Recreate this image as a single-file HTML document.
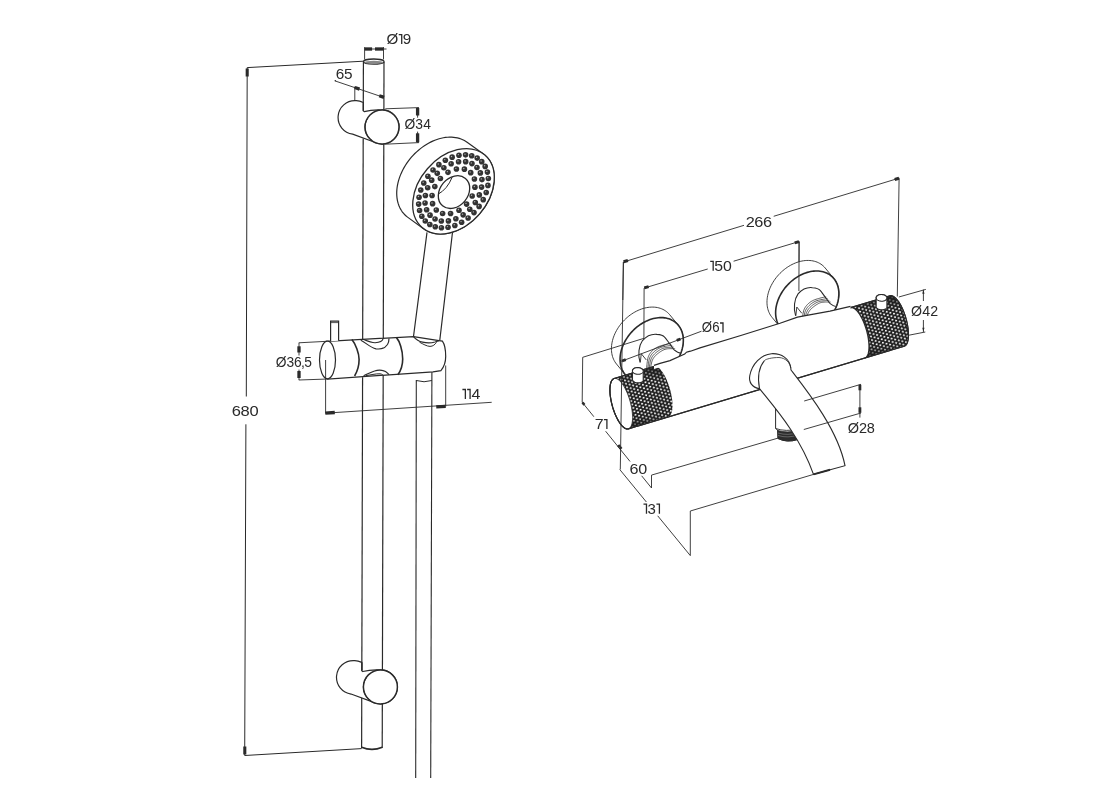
<!DOCTYPE html>
<html><head><meta charset="utf-8"><style>
html,body{margin:0;padding:0;background:#fff;}
svg{display:block;will-change:transform;}
text{font-family:"Liberation Sans",sans-serif;fill:#2a2a2a;}
</style></head><body>
<svg width="1103" height="800" viewBox="0 0 1103 800">
<line x1="247.2" y1="67.6" x2="363.5" y2="61.2" stroke="#2a2a2a" stroke-width="1"/><line x1="247.2" y1="67.6" x2="246.3" y2="396.5" stroke="#2a2a2a" stroke-width="1"/><line x1="245.9" y1="424.3" x2="244.7" y2="755.5" stroke="#2a2a2a" stroke-width="1"/><line x1="244.7" y1="755.5" x2="361.7" y2="748.6" stroke="#2a2a2a" stroke-width="1"/><polygon points="245.66,68.5 248.74,68.5 248.74,76.5 245.66,76.5" fill="#2a2a2a"/><polygon points="246.34,754.5 243.26,754.5 243.26,746.5 246.34,746.5" fill="#2a2a2a"/><text transform="translate(231.67 416.06) scale(1.155 1)" font-size="14.30">6</text><text transform="translate(240.5 416.06) scale(1.155 1)" font-size="14.30">8</text><text transform="translate(249.49 416.06) scale(1.155 1)" font-size="14.30">0</text><ellipse cx="373.8" cy="61.6" rx="10.3" ry="2.6" fill="#fff" stroke="#2a2a2a" stroke-width="1.3"/><ellipse cx="373.8" cy="62.4" rx="9.5" ry="1.6" fill="#888" stroke="none"/><line x1="364.6" y1="47.1" x2="364.6" y2="59.5" stroke="#2a2a2a" stroke-width="0.9"/><line x1="383.5" y1="47.1" x2="383.5" y2="59.5" stroke="#2a2a2a" stroke-width="0.9"/><line x1="364.6" y1="49" x2="386.5" y2="49" stroke="#2a2a2a" stroke-width="0.9"/><polygon points="364.6,50.66 364.6,47.34 372.1,47.34 372.1,50.66" fill="#2a2a2a"/><polygon points="383.5,47.34 383.5,50.66 375,50.66 375,47.34" fill="#2a2a2a"/><text transform="translate(386.39 44.06) scale(1.059 1)" font-size="14.30">Ø</text><path d="M398.74,34.6 L401.72,34.6 L401.72,44.06" fill="none" stroke="#2a2a2a" stroke-width="1.3" stroke-linejoin="miter"/><text transform="translate(402.78 44.06) scale(1.059 1)" font-size="14.30">9</text><line x1="363.4" y1="62" x2="363.28" y2="110.2" stroke="#2a2a2a" stroke-width="1.2"/><line x1="384" y1="62" x2="383.88" y2="110" stroke="#2a2a2a" stroke-width="1.2"/><line x1="363.2" y1="138.6" x2="362.68" y2="339.6" stroke="#2a2a2a" stroke-width="1.2"/><line x1="383.79" y1="144" x2="383.28" y2="339" stroke="#2a2a2a" stroke-width="1.2"/><line x1="362.58" y1="377.3" x2="361.82" y2="670" stroke="#2a2a2a" stroke-width="1.2"/><line x1="383.19" y1="372.5" x2="382.42" y2="670" stroke="#2a2a2a" stroke-width="1.2"/><line x1="361.75" y1="697" x2="361.62" y2="748" stroke="#2a2a2a" stroke-width="1.2"/><line x1="382.33" y1="703" x2="382.22" y2="748" stroke="#2a2a2a" stroke-width="1.2"/><path d="M361.6,747.2 Q372,751.5 382.3,747.2" fill="none" stroke="#2a2a2a" stroke-width="1.6" /><line x1="335.3" y1="81" x2="384" y2="97.5" stroke="#2a2a2a" stroke-width="0.9"/><circle cx="335.3" cy="80.7" r="0.8" fill="#2a2a2a"/><line x1="354.8" y1="86.5" x2="354.8" y2="100.7" stroke="#2a2a2a" stroke-width="0.9"/><polygon points="354.28,89.08 355.32,85.92 360.07,87.49 359.03,90.65" fill="#2a2a2a"/><polygon points="384.52,95.72 383.48,98.88 378.73,97.31 379.77,94.15" fill="#2a2a2a"/><text transform="translate(335.73 79.46) scale(1.074 1)" font-size="14.30">6</text><text transform="translate(344.09 79.46) scale(1.074 1)" font-size="14.30">5</text><path d="M363.28,102.5 Q359,100.4 355.5,100.7 A16.8,16.8 0 0 0 352.66,134.14 L374.02,142.01 A17,17 0 1 0 381,110 Q372,109.6 364.23,111.6 L363.23,110.8 Z" fill="#fff" stroke="#2a2a2a" stroke-width="1.2" /><circle cx="382" cy="127" r="17" fill="#fff" stroke="#2a2a2a" stroke-width="1.5"/><path d="M368,118 A15.8,15.8 0 0 0 372,140.5" fill="none" stroke="#2a2a2a" stroke-width="0.9"/><line x1="363.3" y1="102.5" x2="363.28" y2="110.8" stroke="#2a2a2a" stroke-width="1.2"/><path d="M361.82,662.4 Q357.4,660.3 353.9,660.6 A16.8,16.8 0 0 0 351.06,694.04 L372.42,701.91 A17,17 0 1 0 379.4,669.9 Q370.4,669.5 362.78,671.5 L361.78,670.7 Z" fill="#fff" stroke="#2a2a2a" stroke-width="1.2" /><circle cx="380.4" cy="686.9" r="17" fill="#fff" stroke="#2a2a2a" stroke-width="1.5"/><path d="M366.4,677.9 A15.8,15.8 0 0 0 370.4,700.4" fill="none" stroke="#2a2a2a" stroke-width="0.9"/><line x1="361.84" y1="662.4" x2="361.82" y2="670.7" stroke="#2a2a2a" stroke-width="1.2"/><line x1="385.3" y1="108.8" x2="419" y2="107.6" stroke="#2a2a2a" stroke-width="0.9"/><line x1="385.3" y1="144.2" x2="419" y2="142.6" stroke="#2a2a2a" stroke-width="0.9"/><line x1="417.6" y1="107.6" x2="417.6" y2="142.6" stroke="#2a2a2a" stroke-width="0.9"/><polygon points="415.94,108 419.26,108 419.26,115.5 415.94,115.5" fill="#2a2a2a"/><polygon points="419.26,142.3 415.94,142.3 415.94,133.3 419.26,133.3" fill="#2a2a2a"/><rect x="403" y="117.7" width="29.4" height="13.9" fill="#fff"/><text transform="translate(404.45 129.46) scale(0.968 1)" font-size="14.30">Ø</text><text transform="translate(415.28 129.46) scale(0.968 1)" font-size="14.30">3</text><text transform="translate(423.13 129.46) scale(0.968 1)" font-size="14.30">4</text><line x1="416.3" y1="380" x2="415.7" y2="778" stroke="#2a2a2a" stroke-width="1.1"/><line x1="431.9" y1="372" x2="430.7" y2="778" stroke="#2a2a2a" stroke-width="1.1"/><path d="M416.3,380.5 Q424,383 431.9,380.5" fill="none" stroke="#2a2a2a" stroke-width="1" /><path d="M427,232.3 L413.5,336.5 M452.5,232.3 L439.7,341" fill="none" stroke="#2a2a2a" stroke-width="1.2" /><polygon points="396.72,193.72 396.74,191.59 396.88,189.43 397.14,187.24 397.5,185.03 397.97,182.81 398.55,180.57 399.24,178.34 400.03,176.11 400.92,173.89 401.92,171.69 403.01,169.51 404.19,167.35 405.47,165.23 406.84,163.15 408.29,161.12 409.82,159.14 411.42,157.21 413.1,155.35 414.84,153.55 416.65,151.83 418.51,150.18 420.43,148.61 422.39,147.13 424.39,145.74 426.43,144.44 428.5,143.24 430.6,142.14 432.71,141.14 434.84,140.24 436.97,139.46 439.11,138.79 441.24,138.23 443.36,137.78 445.46,137.45 447.54,137.23 449.6,137.13 451.62,137.15 453.61,137.29 455.54,137.54 457.43,137.9 459.27,138.39 461.04,138.98 462.76,139.69 464.4,140.51 465.96,141.43 467.45,142.46 483.45,153.96 484.86,155.09 486.18,156.33 487.42,157.65 488.56,159.07 489.6,160.58 490.54,162.17 491.39,163.85 492.12,165.59 492.76,167.41 493.28,169.3 493.7,171.24 494,173.24 494.2,175.29 494.28,177.38 494.26,179.51 494.12,181.67 493.86,183.86 493.5,186.07 493.03,188.29 492.45,190.53 491.76,192.76 490.97,194.99 490.08,197.21 489.08,199.41 487.99,201.59 486.81,203.75 485.53,205.87 484.16,207.95 482.71,209.98 481.18,211.96 479.58,213.89 477.9,215.75 476.16,217.55 474.35,219.27 472.49,220.92 470.57,222.49 468.61,223.97 466.61,225.36 464.57,226.66 462.5,227.86 460.4,228.96 458.29,229.96 456.16,230.86 454.03,231.64 451.89,232.31 449.76,232.87 447.64,233.32 445.54,233.65 443.46,233.87 441.4,233.97 439.38,233.95 437.39,233.81 435.46,233.56 433.57,233.2 431.73,232.71 429.96,232.12 428.24,231.41 426.6,230.59 425.04,229.67 423.55,228.64 407.55,217.14 406.14,216.01 404.82,214.77 403.58,213.45 402.44,212.03 401.4,210.52 400.46,208.93 399.61,207.25 398.88,205.51 398.24,203.69 397.72,201.8 397.3,199.86 397,197.86 396.8,195.81" fill="#fff" stroke="#2a2a2a" stroke-width="1.2"/><ellipse cx="453.5" cy="191.3" rx="47.9" ry="34.5" transform="rotate(-49.1 453.5 191.3)" fill="#fff" stroke="#2a2a2a" stroke-width="1.3"/><g fill="#333"><circle cx="470.71" cy="172.65" r="2.8"/><circle cx="474.41" cy="178.97" r="2.8"/><circle cx="474.92" cy="187.16" r="2.8"/><circle cx="472.17" cy="195.99" r="2.8"/><circle cx="466.58" cy="204.1" r="2.8"/><circle cx="459" cy="210.26" r="2.8"/><circle cx="450.58" cy="213.54" r="2.8"/><circle cx="442.61" cy="213.43" r="2.8"/><circle cx="436.29" cy="209.95" r="2.8"/><circle cx="432.59" cy="203.63" r="2.8"/><circle cx="432.08" cy="195.44" r="2.8"/><circle cx="434.83" cy="186.61" r="2.8"/><circle cx="440.42" cy="178.5" r="2.8"/><circle cx="448" cy="172.34" r="2.8"/><circle cx="456.42" cy="169.06" r="2.8"/><circle cx="464.39" cy="169.17" r="2.8"/><circle cx="476.96" cy="167.43" r="2.8"/><circle cx="480.37" cy="172.89" r="2.8"/><circle cx="481.95" cy="179.61" r="2.8"/><circle cx="481.59" cy="187.12" r="2.8"/><circle cx="479.32" cy="194.92" r="2.8"/><circle cx="475.29" cy="202.47" r="2.8"/><circle cx="469.77" cy="209.26" r="2.8"/><circle cx="463.14" cy="214.83" r="2.8"/><circle cx="455.86" cy="218.79" r="2.8"/><circle cx="448.42" cy="220.88" r="2.8"/><circle cx="441.32" cy="220.95" r="2.8"/><circle cx="435.05" cy="219" r="2.8"/><circle cx="430.04" cy="215.17" r="2.8"/><circle cx="426.63" cy="209.71" r="2.8"/><circle cx="425.05" cy="202.99" r="2.8"/><circle cx="425.41" cy="195.48" r="2.8"/><circle cx="427.68" cy="187.68" r="2.8"/><circle cx="431.71" cy="180.13" r="2.8"/><circle cx="437.23" cy="173.34" r="2.8"/><circle cx="443.86" cy="167.77" r="2.8"/><circle cx="451.14" cy="163.81" r="2.8"/><circle cx="458.58" cy="161.72" r="2.8"/><circle cx="465.68" cy="161.65" r="2.8"/><circle cx="471.95" cy="163.6" r="2.8"/><circle cx="481.72" cy="161.67" r="2.8"/><circle cx="485.17" cy="166.4" r="2.8"/><circle cx="487.41" cy="172.08" r="2.8"/><circle cx="488.35" cy="178.5" r="2.8"/><circle cx="487.94" cy="185.41" r="2.8"/><circle cx="486.22" cy="192.55" r="2.8"/><circle cx="483.23" cy="199.64" r="2.8"/><circle cx="479.11" cy="206.41" r="2.8"/><circle cx="473.99" cy="212.6" r="2.8"/><circle cx="468.1" cy="217.97" r="2.8"/><circle cx="461.64" cy="222.31" r="2.8"/><circle cx="454.86" cy="225.47" r="2.8"/><circle cx="448.04" cy="227.31" r="2.8"/><circle cx="441.43" cy="227.76" r="2.8"/><circle cx="435.28" cy="226.82" r="2.8"/><circle cx="429.83" cy="224.51" r="2.8"/><circle cx="425.28" cy="220.93" r="2.8"/><circle cx="421.83" cy="216.2" r="2.8"/><circle cx="419.59" cy="210.52" r="2.8"/><circle cx="418.65" cy="204.1" r="2.8"/><circle cx="419.06" cy="197.19" r="2.8"/><circle cx="420.78" cy="190.05" r="2.8"/><circle cx="423.77" cy="182.96" r="2.8"/><circle cx="427.89" cy="176.19" r="2.8"/><circle cx="433.01" cy="170" r="2.8"/><circle cx="438.9" cy="164.63" r="2.8"/><circle cx="445.36" cy="160.29" r="2.8"/><circle cx="452.14" cy="157.13" r="2.8"/><circle cx="458.96" cy="155.29" r="2.8"/><circle cx="465.57" cy="154.84" r="2.8"/><circle cx="471.72" cy="155.78" r="2.8"/><circle cx="477.17" cy="158.09" r="2.8"/></g><g fill="#b0b0b0"><circle cx="470.11" cy="171.95" r="0.7"/><circle cx="473.81" cy="178.27" r="0.7"/><circle cx="474.32" cy="186.46" r="0.7"/><circle cx="471.57" cy="195.29" r="0.7"/><circle cx="465.98" cy="203.4" r="0.7"/><circle cx="458.4" cy="209.56" r="0.7"/><circle cx="449.98" cy="212.84" r="0.7"/><circle cx="442.01" cy="212.73" r="0.7"/><circle cx="435.69" cy="209.25" r="0.7"/><circle cx="431.99" cy="202.93" r="0.7"/><circle cx="431.48" cy="194.74" r="0.7"/><circle cx="434.23" cy="185.91" r="0.7"/><circle cx="439.82" cy="177.8" r="0.7"/><circle cx="447.4" cy="171.64" r="0.7"/><circle cx="455.82" cy="168.36" r="0.7"/><circle cx="463.79" cy="168.47" r="0.7"/><circle cx="476.36" cy="166.73" r="0.7"/><circle cx="479.77" cy="172.19" r="0.7"/><circle cx="481.35" cy="178.91" r="0.7"/><circle cx="480.99" cy="186.42" r="0.7"/><circle cx="478.72" cy="194.22" r="0.7"/><circle cx="474.69" cy="201.77" r="0.7"/><circle cx="469.17" cy="208.56" r="0.7"/><circle cx="462.54" cy="214.13" r="0.7"/><circle cx="455.26" cy="218.09" r="0.7"/><circle cx="447.82" cy="220.18" r="0.7"/><circle cx="440.72" cy="220.25" r="0.7"/><circle cx="434.45" cy="218.3" r="0.7"/><circle cx="429.44" cy="214.47" r="0.7"/><circle cx="426.03" cy="209.01" r="0.7"/><circle cx="424.45" cy="202.29" r="0.7"/><circle cx="424.81" cy="194.78" r="0.7"/><circle cx="427.08" cy="186.98" r="0.7"/><circle cx="431.11" cy="179.43" r="0.7"/><circle cx="436.63" cy="172.64" r="0.7"/><circle cx="443.26" cy="167.07" r="0.7"/><circle cx="450.54" cy="163.11" r="0.7"/><circle cx="457.98" cy="161.02" r="0.7"/><circle cx="465.08" cy="160.95" r="0.7"/><circle cx="471.35" cy="162.9" r="0.7"/><circle cx="481.12" cy="160.97" r="0.7"/><circle cx="484.57" cy="165.7" r="0.7"/><circle cx="486.81" cy="171.38" r="0.7"/><circle cx="487.75" cy="177.8" r="0.7"/><circle cx="487.34" cy="184.71" r="0.7"/><circle cx="485.62" cy="191.85" r="0.7"/><circle cx="482.63" cy="198.94" r="0.7"/><circle cx="478.51" cy="205.71" r="0.7"/><circle cx="473.39" cy="211.9" r="0.7"/><circle cx="467.5" cy="217.27" r="0.7"/><circle cx="461.04" cy="221.61" r="0.7"/><circle cx="454.26" cy="224.77" r="0.7"/><circle cx="447.44" cy="226.61" r="0.7"/><circle cx="440.83" cy="227.06" r="0.7"/><circle cx="434.68" cy="226.12" r="0.7"/><circle cx="429.23" cy="223.81" r="0.7"/><circle cx="424.68" cy="220.23" r="0.7"/><circle cx="421.23" cy="215.5" r="0.7"/><circle cx="418.99" cy="209.82" r="0.7"/><circle cx="418.05" cy="203.4" r="0.7"/><circle cx="418.46" cy="196.49" r="0.7"/><circle cx="420.18" cy="189.35" r="0.7"/><circle cx="423.17" cy="182.26" r="0.7"/><circle cx="427.29" cy="175.49" r="0.7"/><circle cx="432.41" cy="169.3" r="0.7"/><circle cx="438.3" cy="163.93" r="0.7"/><circle cx="444.76" cy="159.59" r="0.7"/><circle cx="451.54" cy="156.43" r="0.7"/><circle cx="458.36" cy="154.59" r="0.7"/><circle cx="464.97" cy="154.14" r="0.7"/><circle cx="471.12" cy="155.08" r="0.7"/><circle cx="476.57" cy="157.39" r="0.7"/></g><ellipse cx="454" cy="192.1" rx="17.85" ry="14" transform="rotate(-50.1 454 192.1)" fill="#fff" stroke="#2a2a2a" stroke-width="1.3"/><path d="M452.2,177.2 Q447,189.5 438.3,194" fill="none" stroke="#2a2a2a" stroke-width="1" /><path d="M327,341.3 L413.5,336.6 L439,340.7 L442.4,341.1 C444.5,344 445.7,350 445.7,356.5 C445.7,362 444,367 440.9,370.7 L433,371.9 L328,379 Z" fill="#fff" stroke="#2a2a2a" stroke-width="1.2" /><ellipse cx="327.5" cy="360" rx="8" ry="18.8" fill="#fff" stroke="#2a2a2a" stroke-width="1.2"/><path d="M330.6,341.3 L330.6,321.2 L338.6,321.2 L338.6,340.8" fill="#fff" stroke="#2a2a2a" stroke-width="1.2" /><path d="M330.6,322.6 L338.6,322.6" fill="none" stroke="#2a2a2a" stroke-width="0.8" /><path d="M351.9,339.6 C355.5,344 359.1,353 359.1,359.6 C359.1,366 357,372 354.6,376" fill="none" stroke="#2a2a2a" stroke-width="1.6" /><path d="M396.5,337.6 C399.5,341 402.7,350 402.7,358.9 C402.7,365 400.5,371 397.9,374.7" fill="none" stroke="#2a2a2a" stroke-width="1.6" /><path d="M362.9,339.2 C366,340.5 371,342.8 375.2,342.7 C379,342.6 382.5,341.5 383.2,338.4" fill="none" stroke="#2a2a2a" stroke-width="1.1" /><path d="M360.8,340.3 C365,342 370,347.5 376,348.8 C381,349.5 385.5,347.5 387.5,344.5 C389,342 389,340 389,338.6" fill="none" stroke="#2a2a2a" stroke-width="1.2" /><path d="M363.6,375.7 C367,374.5 371,372 374.5,371 C378,369.8 382,369.8 385.5,371.5 C387,372.5 388.5,374 389,374.7" fill="none" stroke="#2a2a2a" stroke-width="1.2" /><path d="M365.6,375.7 C370,375 376,373.6 380,373.8 C382,374 383,375 383.5,375.4" fill="none" stroke="#2a2a2a" stroke-width="1.0" /><path d="M413.5,336.6 C416,339.5 419,341.5 422.5,342.2 C426,343 431,343.2 435,342 L439,340.7" fill="none" stroke="#2a2a2a" stroke-width="1.2" /><path d="M419.5,342.2 C423,344 427,346.4 430,346.4 C433,346.4 435,344.5 436.5,342.3" fill="none" stroke="#2a2a2a" stroke-width="1.0" /><line x1="298.8" y1="342.8" x2="327" y2="341.3" stroke="#2a2a2a" stroke-width="0.9"/><line x1="298.8" y1="380" x2="328" y2="379" stroke="#2a2a2a" stroke-width="0.9"/><line x1="299" y1="342.8" x2="299" y2="380" stroke="#2a2a2a" stroke-width="0.9"/><polygon points="297.34,346.3 300.66,346.3 300.66,352.5 297.34,352.5" fill="#2a2a2a"/><polygon points="300.66,378 297.34,378 297.34,371 300.66,371" fill="#2a2a2a"/><rect x="274.3" y="355.5" width="39" height="14.1" fill="#fff"/><text transform="translate(275.75 367.46) scale(0.965 1)" font-size="14.30">Ø</text><text transform="translate(286.55 367.46) scale(0.965 1)" font-size="14.30">3</text><text transform="translate(294.04 367.46) scale(0.965 1)" font-size="14.30">6</text><text transform="translate(300.98 367.46) scale(0.965 1)" font-size="14.30">,</text><text transform="translate(304.19 367.46) scale(0.965 1)" font-size="14.30">5</text><line x1="325.6" y1="360" x2="325.6" y2="413.2" stroke="#2a2a2a" stroke-width="0.9"/><line x1="325.3" y1="413.2" x2="491.7" y2="402.3" stroke="#2a2a2a" stroke-width="0.9"/><line x1="445.7" y1="365.5" x2="445.7" y2="406.6" stroke="#2a2a2a" stroke-width="0.9"/><polygon points="325.41,414.76 325.19,411.44 334.67,410.82 334.89,414.14" fill="#2a2a2a"/><polygon points="445.59,404.64 445.81,407.96 436.33,408.58 436.11,405.26" fill="#2a2a2a"/><path d="M462.4,389.5 L465.37,389.5 L465.37,398.96" fill="none" stroke="#2a2a2a" stroke-width="1.3" stroke-linejoin="miter"/><path d="M467.12,389.5 L470.09,389.5 L470.09,398.96" fill="none" stroke="#2a2a2a" stroke-width="1.3" stroke-linejoin="miter"/><text transform="translate(471.44 398.96) scale(1.114 1)" font-size="14.30">4</text><line x1="623.4" y1="262" x2="899.2" y2="178.1" stroke="#2a2a2a" stroke-width="0.9"/><line x1="899.1" y1="178.1" x2="897.3" y2="296.5" stroke="#2a2a2a" stroke-width="0.9"/><polygon points="624.05,263.27 623.15,260.33 627.46,259.02 628.35,261.96" fill="#2a2a2a"/><polygon points="898.55,176.73 899.45,179.67 895.14,180.98 894.25,178.04" fill="#2a2a2a"/><line x1="644.1" y1="288.1" x2="799.2" y2="241.5" stroke="#2a2a2a" stroke-width="0.9"/><line x1="799.1" y1="241.5" x2="798.9" y2="291" stroke="#2a2a2a" stroke-width="0.9"/><polygon points="644.74,289.37 643.86,286.43 648.17,285.14 649.05,288.08" fill="#2a2a2a"/><polygon points="798.56,240.13 799.44,243.07 795.13,244.36 794.25,241.42" fill="#2a2a2a"/><path d="M611.43,348.8 L611.47,347.18 L611.6,345.53 L611.82,343.87 L612.12,342.19 L612.51,340.51 L612.98,338.82 L613.53,337.13 L614.16,335.45 L614.87,333.78 L615.66,332.13 L616.53,330.5 L617.47,328.89 L618.48,327.3 L619.55,325.75 L620.69,324.24 L621.89,322.77 L623.15,321.35 L624.47,319.97 L625.83,318.65 L627.24,317.38 L628.7,316.18 L630.19,315.03 L631.72,313.96 L633.28,312.95 L634.87,312.02 L636.48,311.16 L638.11,310.38 L639.75,309.67 L641.4,309.05 L643.06,308.51 L644.71,308.06 L646.36,307.69 L648,307.41 L649.63,307.21 L651.24,307.11 L652.83,307.09 L654.39,307.16 L655.92,307.32 L657.42,307.56 L658.87,307.9 L660.28,308.32 L661.65,308.82 L662.96,309.41 L664.22,310.08 L665.42,310.83 L666.56,311.66 L667.64,312.56 L668.64,313.54 L669.58,314.59 L678.22,325.1 L679.09,326.21 L679.88,327.39 L680.59,328.64 L681.22,329.93 L681.78,331.29 L682.25,332.69 L682.63,334.15 L682.94,335.64 L683.15,337.18 L683.28,338.75 L683.32,340.34 L683.28,341.97 L683.15,343.62 L682.94,345.28 L682.63,346.96 L682.25,348.64 L681.78,350.33 L681.22,352.01 L680.59,353.69 L679.88,355.36 L679.09,357.02 L678.22,358.65 L677.28,360.26 L676.28,361.84 L675.2,363.39 L674.06,364.91 L672.86,366.38 L671.6,367.8 L670.29,369.18 L668.92,370.5 L667.51,371.77 L666.06,372.97 L664.56,374.11 L663.03,375.19 L661.47,376.2 L659.88,377.13 L658.27,377.99 L656.64,378.77 L655,379.47 L653.35,380.1 L651.7,380.63 L650.04,381.09 L648.39,381.46 L646.75,381.74 L645.12,381.93 L643.51,382.04 L641.92,382.06 L640.36,381.99 L638.83,381.83 L637.34,381.58 L635.88,381.25 L634.47,380.83 L633.11,380.33 L631.79,379.74 L630.53,379.07 L629.33,378.32 L628.19,377.49 L627.12,376.59 L626.11,375.61 L625.17,374.56 L616.53,364.05 L615.66,362.94 L614.87,361.75 L614.16,360.51 L613.53,359.21 L612.98,357.86 L612.51,356.45 L612.12,355 L611.82,353.51 L611.6,351.97 L611.47,350.4 Z" fill="#fff" stroke="#2a2a2a" stroke-width="0.9"/><path d="M683.32,340.34 L683.28,341.97 L683.15,343.62 L682.94,345.28 L682.63,346.96 L682.25,348.64 L681.78,350.33 L681.22,352.01 L680.59,353.69 L679.88,355.36 L679.09,357.02 L678.22,358.65 L677.28,360.26 L676.28,361.84 L675.2,363.39 L674.06,364.91 L672.86,366.38 L671.6,367.8 L670.29,369.18 L668.92,370.5 L667.51,371.77 L666.06,372.97 L664.56,374.11 L663.03,375.19 L661.47,376.2 L659.88,377.13 L658.27,377.99 L656.64,378.77 L655,379.47 L653.35,380.1 L651.7,380.63 L650.04,381.09 L648.39,381.46 L646.75,381.74 L645.12,381.93 L643.51,382.04 L641.92,382.06 L640.36,381.99 L638.83,381.83 L637.34,381.58 L635.88,381.25 L634.47,380.83 L633.11,380.33 L631.79,379.74 L630.53,379.07 L629.33,378.32 L628.19,377.49 L627.12,376.59 L626.11,375.61 L625.17,374.56 L624.3,373.45 L623.51,372.27 L622.8,371.02 L622.17,369.73 L621.62,368.37 L621.15,366.97 L620.76,365.51 L620.46,364.02 L620.24,362.48 L620.11,360.91 L620.07,359.32 L620.11,357.69 L620.24,356.04 L620.46,354.38 L620.76,352.7 L621.15,351.02 L621.62,349.33 L622.17,347.65 L622.8,345.97 L623.51,344.3 L624.3,342.64 L625.17,341.01 L626.11,339.4 L627.12,337.82 L628.19,336.27 L629.33,334.75 L630.53,333.28 L631.79,331.86 L633.11,330.48 L634.47,329.16 L635.88,327.89 L637.34,326.69 L638.83,325.55 L640.36,324.47 L641.92,323.46 L643.51,322.53 L645.12,321.67 L646.75,320.89 L648.39,320.19 L650.04,319.56 L651.7,319.02 L653.35,318.57 L655,318.2 L656.64,317.92 L658.27,317.73 L659.88,317.62 L661.47,317.6 L663.03,317.67 L664.56,317.83 L666.06,318.08 L667.51,318.41 L668.92,318.83 L670.29,319.33 L671.6,319.92 L672.86,320.59 L674.06,321.34 L675.2,322.17 L676.28,323.07 L677.28,324.05 L678.22,325.1 L679.09,326.21 L679.88,327.39 L680.59,328.64 L681.22,329.93 L681.78,331.29 L682.25,332.69 L682.63,334.15 L682.94,335.64 L683.15,337.18 L683.28,338.75 Z" fill="#fff" stroke="#2a2a2a" stroke-width="1.6"/><path d="M640.1,362.43 C637.7,354.83 638.7,345.83 642.5,340.53 C646.7,335.83 652.7,333.83 656.9,334.33 C660.7,334.63 663.2,335.33 664.4,336.83 C666.7,339.33 668.7,342.83 670.6,344.93 C672.2,347.33 673.7,349.83 675,350.53 C676.7,351.83 678.7,352.83 680.2,353.13" fill="none" stroke="#2a2a2a" stroke-width="1.1"/><path d="M646.6,368.03 L646.7,367.18 L646.81,366.02 L646.95,364.64 L647.11,363.12 L647.3,361.55 L647.52,360.02 L647.79,358.62 L648.1,357.43 L648.44,356.43 L648.83,355.52 L649.25,354.68 L649.7,353.91 L650.19,353.19 L650.72,352.51 L651.29,351.84 L651.9,351.18 L652.53,350.53 L653.2,349.92 L653.9,349.34 L654.65,348.79 L655.43,348.26 L656.26,347.76 L657.15,347.29 L658.1,346.83 L659.16,346.39 L660.37,345.96 L661.66,345.56 L662.98,345.18 L664.28,344.83 L665.51,344.52 L666.6,344.25 L667.5,344.03 L668.21,343.87 L668.81,343.77 L669.29,343.72 L669.68,343.7 L670,343.71 L670.27,343.73 L670.49,343.74 L670.7,343.73" fill="none" stroke="#2a2a2a" stroke-width="0.75"/><path d="M647.93,367.83 L648.04,367.07 L648.17,366.03 L648.32,364.79 L648.5,363.42 L648.71,362.01 L648.95,360.63 L649.23,359.36 L649.56,358.26 L649.93,357.33 L650.33,356.47 L650.76,355.68 L651.24,354.93 L651.75,354.23 L652.31,353.55 L652.91,352.89 L653.56,352.23 L654.27,351.57 L655.02,350.93 L655.82,350.3 L656.66,349.7 L657.54,349.13 L658.46,348.6 L659.41,348.11 L660.4,347.66 L661.47,347.27 L662.68,346.92 L663.95,346.62 L665.24,346.35 L666.5,346.11 L667.68,345.91 L668.71,345.73 L669.56,345.58 L670.22,345.47 L670.74,345.4 L671.14,345.38 L671.45,345.37 L671.69,345.39 L671.88,345.41 L672.04,345.43 L672.2,345.43" fill="none" stroke="#2a2a2a" stroke-width="0.75"/><path d="M649.26,367.63 L649.38,366.95 L649.52,366.03 L649.69,364.94 L649.88,363.73 L650.11,362.47 L650.38,361.24 L650.68,360.09 L651.03,359.1 L651.42,358.23 L651.83,357.43 L652.28,356.67 L652.77,355.95 L653.31,355.27 L653.89,354.6 L654.53,353.94 L655.23,353.28 L656,352.61 L656.83,351.93 L657.73,351.26 L658.67,350.61 L659.65,349.99 L660.65,349.43 L661.67,348.92 L662.7,348.5 L663.79,348.15 L664.99,347.88 L666.24,347.67 L667.5,347.51 L668.72,347.39 L669.84,347.3 L670.83,347.21 L671.63,347.13 L672.23,347.06 L672.68,347.03 L673,347.03 L673.22,347.04 L673.37,347.07 L673.49,347.1 L673.58,347.12 L673.7,347.13" fill="none" stroke="#2a2a2a" stroke-width="0.75"/><path d="M650.6,367.43 L650.73,366.84 L650.88,366.04 L651.06,365.08 L651.27,364.03 L651.52,362.93 L651.8,361.85 L652.13,360.83 L652.5,359.93 L652.9,359.13 L653.33,358.38 L653.8,357.66 L654.31,356.97 L654.87,356.3 L655.48,355.64 L656.15,354.99 L656.9,354.33 L657.73,353.65 L658.65,352.94 L659.64,352.22 L660.68,351.52 L661.75,350.86 L662.84,350.26 L663.93,349.74 L665,349.33 L666.1,349.04 L667.3,348.84 L668.53,348.73 L669.76,348.68 L670.93,348.67 L672.01,348.68 L672.95,348.69 L673.7,348.68 L674.24,348.66 L674.61,348.66 L674.85,348.68 L674.99,348.71 L675.06,348.75 L675.1,348.78 L675.13,348.81 L675.2,348.83" fill="none" stroke="#2a2a2a" stroke-width="0.75"/><path d="M640.3,362.43 L641.25,353.68 L646.25,359.93" fill="none" stroke="#2a2a2a" stroke-width="0.9"/><path d="M766.98,302.15 L767.02,300.53 L767.15,298.88 L767.37,297.22 L767.67,295.54 L768.06,293.86 L768.53,292.17 L769.08,290.48 L769.71,288.8 L770.42,287.13 L771.21,285.48 L772.08,283.85 L773.02,282.24 L774.03,280.65 L775.1,279.1 L776.24,277.59 L777.44,276.12 L778.7,274.7 L780.02,273.32 L781.38,272 L782.79,270.73 L784.25,269.53 L785.74,268.38 L787.27,267.31 L788.83,266.3 L790.42,265.37 L792.03,264.51 L793.66,263.73 L795.3,263.02 L796.95,262.4 L798.61,261.86 L800.26,261.41 L801.91,261.04 L803.55,260.76 L805.18,260.56 L806.79,260.46 L808.38,260.44 L809.94,260.51 L811.47,260.67 L812.97,260.91 L814.42,261.25 L815.83,261.67 L817.2,262.17 L818.51,262.76 L819.77,263.43 L820.97,264.18 L822.11,265.01 L823.19,265.91 L824.19,266.89 L825.13,267.94 L833.77,278.45 L834.64,279.56 L835.43,280.74 L836.14,281.99 L836.77,283.28 L837.33,284.64 L837.8,286.04 L838.18,287.5 L838.49,288.99 L838.7,290.53 L838.83,292.1 L838.87,293.69 L838.83,295.32 L838.7,296.97 L838.49,298.63 L838.18,300.31 L837.8,301.99 L837.33,303.68 L836.77,305.36 L836.14,307.04 L835.43,308.71 L834.64,310.37 L833.77,312 L832.83,313.61 L831.83,315.19 L830.75,316.74 L829.61,318.26 L828.41,319.73 L827.15,321.15 L825.84,322.53 L824.47,323.85 L823.06,325.12 L821.61,326.32 L820.11,327.46 L818.58,328.54 L817.02,329.55 L815.43,330.48 L813.82,331.34 L812.19,332.12 L810.55,332.82 L808.9,333.45 L807.25,333.99 L805.59,334.44 L803.94,334.81 L802.3,335.09 L800.67,335.28 L799.06,335.39 L797.47,335.41 L795.91,335.34 L794.38,335.18 L792.89,334.93 L791.43,334.6 L790.02,334.18 L788.66,333.68 L787.34,333.09 L786.08,332.42 L784.88,331.67 L783.74,330.84 L782.67,329.94 L781.66,328.96 L780.72,327.91 L772.08,317.4 L771.21,316.29 L770.42,315.1 L769.71,313.86 L769.08,312.56 L768.53,311.21 L768.06,309.8 L767.67,308.35 L767.37,306.86 L767.15,305.32 L767.02,303.75 Z" fill="#fff" stroke="#2a2a2a" stroke-width="0.9"/><path d="M838.87,293.69 L838.83,295.32 L838.7,296.97 L838.49,298.63 L838.18,300.31 L837.8,301.99 L837.33,303.68 L836.77,305.36 L836.14,307.04 L835.43,308.71 L834.64,310.37 L833.77,312 L832.83,313.61 L831.83,315.19 L830.75,316.74 L829.61,318.26 L828.41,319.73 L827.15,321.15 L825.84,322.53 L824.47,323.85 L823.06,325.12 L821.61,326.32 L820.11,327.46 L818.58,328.54 L817.02,329.55 L815.43,330.48 L813.82,331.34 L812.19,332.12 L810.55,332.82 L808.9,333.45 L807.25,333.99 L805.59,334.44 L803.94,334.81 L802.3,335.09 L800.67,335.28 L799.06,335.39 L797.47,335.41 L795.91,335.34 L794.38,335.18 L792.89,334.93 L791.43,334.6 L790.02,334.18 L788.66,333.68 L787.34,333.09 L786.08,332.42 L784.88,331.67 L783.74,330.84 L782.67,329.94 L781.66,328.96 L780.72,327.91 L779.85,326.8 L779.06,325.62 L778.35,324.37 L777.72,323.08 L777.17,321.72 L776.7,320.32 L776.31,318.86 L776.01,317.37 L775.79,315.83 L775.66,314.26 L775.62,312.67 L775.66,311.04 L775.79,309.39 L776.01,307.73 L776.31,306.05 L776.7,304.37 L777.17,302.68 L777.72,301 L778.35,299.32 L779.06,297.65 L779.85,295.99 L780.72,294.36 L781.66,292.75 L782.67,291.17 L783.74,289.62 L784.88,288.1 L786.08,286.63 L787.34,285.21 L788.66,283.83 L790.02,282.51 L791.43,281.24 L792.89,280.04 L794.38,278.9 L795.91,277.82 L797.47,276.81 L799.06,275.88 L800.67,275.02 L802.3,274.24 L803.94,273.54 L805.59,272.91 L807.25,272.38 L808.9,271.92 L810.55,271.55 L812.19,271.27 L813.82,271.08 L815.43,270.97 L817.02,270.95 L818.58,271.02 L820.11,271.18 L821.61,271.43 L823.06,271.76 L824.47,272.18 L825.84,272.68 L827.15,273.27 L828.41,273.94 L829.61,274.69 L830.75,275.52 L831.83,276.42 L832.83,277.4 L833.77,278.45 L834.64,279.56 L835.43,280.74 L836.14,281.99 L836.77,283.28 L837.33,284.64 L837.8,286.04 L838.18,287.5 L838.49,288.99 L838.7,290.53 L838.83,292.1 Z" fill="#fff" stroke="#2a2a2a" stroke-width="1.6"/><path d="M795.65,315.78 C793.25,308.18 794.25,299.18 798.05,293.88 C802.25,289.18 808.25,287.18 812.45,287.68 C816.25,287.98 818.75,288.68 819.95,290.18 C822.25,292.68 824.25,296.18 826.15,298.28 C827.75,300.68 829.25,303.18 830.55,303.88 C832.25,305.18 834.25,306.18 835.75,306.48" fill="none" stroke="#2a2a2a" stroke-width="1.1"/><path d="M802.15,321.38 L802.25,320.53 L802.36,319.37 L802.5,317.99 L802.66,316.47 L802.85,314.9 L803.07,313.37 L803.34,311.97 L803.65,310.78 L803.99,309.78 L804.38,308.87 L804.8,308.03 L805.25,307.26 L805.74,306.54 L806.27,305.86 L806.84,305.19 L807.45,304.53 L808.08,303.88 L808.75,303.27 L809.45,302.69 L810.2,302.14 L810.98,301.61 L811.81,301.11 L812.7,300.64 L813.65,300.18 L814.71,299.74 L815.92,299.31 L817.21,298.91 L818.53,298.53 L819.83,298.18 L821.06,297.87 L822.15,297.6 L823.05,297.38 L823.76,297.22 L824.36,297.12 L824.84,297.07 L825.23,297.06 L825.55,297.06 L825.82,297.08 L826.04,297.09 L826.25,297.08" fill="none" stroke="#2a2a2a" stroke-width="0.75"/><path d="M803.48,321.18 L803.59,320.42 L803.72,319.38 L803.87,318.14 L804.05,316.77 L804.26,315.36 L804.5,313.98 L804.78,312.71 L805.11,311.61 L805.48,310.68 L805.88,309.82 L806.31,309.03 L806.79,308.28 L807.3,307.58 L807.86,306.9 L808.46,306.24 L809.11,305.58 L809.82,304.92 L810.57,304.28 L811.37,303.65 L812.21,303.05 L813.09,302.48 L814.01,301.95 L814.96,301.46 L815.95,301.01 L817.02,300.62 L818.23,300.27 L819.5,299.97 L820.79,299.7 L822.05,299.46 L823.23,299.26 L824.26,299.08 L825.11,298.93 L825.77,298.82 L826.29,298.75 L826.69,298.73 L827,298.72 L827.24,298.74 L827.43,298.76 L827.59,298.78 L827.75,298.78" fill="none" stroke="#2a2a2a" stroke-width="0.75"/><path d="M804.81,320.98 L804.93,320.3 L805.07,319.38 L805.24,318.29 L805.43,317.08 L805.66,315.82 L805.93,314.59 L806.23,313.44 L806.58,312.45 L806.97,311.58 L807.38,310.78 L807.83,310.02 L808.32,309.3 L808.86,308.62 L809.44,307.95 L810.08,307.29 L810.78,306.63 L811.55,305.96 L812.38,305.28 L813.28,304.61 L814.22,303.96 L815.2,303.34 L816.2,302.78 L817.22,302.27 L818.25,301.85 L819.34,301.5 L820.54,301.23 L821.79,301.02 L823.05,300.86 L824.27,300.74 L825.39,300.65 L826.38,300.56 L827.18,300.48 L827.78,300.41 L828.23,300.38 L828.55,300.38 L828.77,300.39 L828.92,300.42 L829.04,300.45 L829.13,300.47 L829.25,300.48" fill="none" stroke="#2a2a2a" stroke-width="0.75"/><path d="M806.15,320.78 L806.28,320.19 L806.43,319.39 L806.61,318.43 L806.82,317.38 L807.07,316.28 L807.35,315.2 L807.68,314.18 L808.05,313.28 L808.45,312.48 L808.88,311.73 L809.35,311.01 L809.86,310.32 L810.42,309.65 L811.03,308.99 L811.7,308.34 L812.45,307.68 L813.28,307 L814.2,306.29 L815.19,305.57 L816.23,304.87 L817.3,304.21 L818.39,303.61 L819.48,303.09 L820.55,302.68 L821.65,302.39 L822.85,302.19 L824.08,302.08 L825.31,302.03 L826.48,302.02 L827.56,302.03 L828.5,302.04 L829.25,302.03 L829.79,302.01 L830.16,302.01 L830.4,302.03 L830.54,302.06 L830.61,302.1 L830.65,302.13 L830.68,302.16 L830.75,302.18" fill="none" stroke="#2a2a2a" stroke-width="0.75"/><path d="M795.85,315.78 L796.8,307.03 L801.8,313.28" fill="none" stroke="#2a2a2a" stroke-width="0.9"/><line x1="623.4" y1="262" x2="622.8" y2="300" stroke="#2a2a2a" stroke-width="0.9"/><line x1="644.1" y1="288.1" x2="643.9" y2="338.8" stroke="#2a2a2a" stroke-width="0.9"/><line x1="799.1" y1="241.5" x2="798.9" y2="291" stroke="#2a2a2a" stroke-width="0.9"/><line x1="582.7" y1="357.3" x2="644" y2="338.3" stroke="#2a2a2a" stroke-width="0.9"/><line x1="621.3" y1="361.3" x2="701.5" y2="331.2" stroke="#2a2a2a" stroke-width="0.9"/><polygon points="622.49,362.32 621.51,359.68 625.25,358.28 626.24,360.91" fill="#2a2a2a"/><polygon points="680.01,337.68 680.99,340.32 677.25,341.72 676.26,339.09" fill="#2a2a2a"/><text transform="translate(701.87 332.46) scale(0.925 1)" font-size="14.30">Ø</text><text transform="translate(712.14 332.46) scale(0.925 1)" font-size="14.30">6</text><path d="M720.02,323 L723,323 L723,332.46" fill="none" stroke="#2a2a2a" stroke-width="1.3" stroke-linejoin="miter"/><path d="M609.91,389.9 L609.93,388.81 L609.97,387.76 L610.05,386.75 L610.16,385.79 L610.3,384.88 L610.47,384.02 L610.66,383.22 L610.89,382.47 L611.15,381.78 L611.43,381.15 L611.74,380.58 L612.08,380.07 L612.44,379.63 L612.82,379.25 L613.23,378.95 L613.66,378.71 L614.11,378.53 L889.96,295.81 L890.43,295.71 L890.92,295.67 L891.42,295.71 L891.94,295.81 L892.48,295.99 L893.03,296.23 L893.59,296.54 L894.16,296.92 L894.73,297.36 L895.32,297.87 L895.91,298.44 L896.5,299.07 L897.09,299.76 L897.69,300.52 L898.28,301.32 L898.87,302.18 L899.45,303.1 L900.03,304.06 L900.6,305.07 L901.16,306.12 L901.7,307.21 L902.24,308.34 L902.76,309.5 L903.27,310.7 L903.76,311.92 L904.23,313.17 L904.68,314.44 L905.11,315.73 L905.52,317.03 L905.9,318.35 L906.27,319.67 L906.6,320.99 L906.91,322.32 L907.2,323.64 L907.45,324.95 L907.68,326.25 L907.88,327.54 L908.05,328.81 L908.18,330.06 L908.29,331.28 L908.37,332.48 L908.42,333.64 L908.43,334.77 L908.42,335.86 L908.37,336.91 L908.29,337.92 L908.18,338.88 L908.05,339.79 L907.88,340.65 L907.68,341.46 L907.45,342.21 L907.2,342.9 L906.91,343.53 L906.6,344.1 L906.27,344.6 L905.9,345.04 L905.52,345.42 L905.11,345.73 L904.68,345.97 L904.23,346.14 L628.39,428.87 L627.92,428.97 L627.43,429 L626.92,428.97 L626.4,428.86 L625.86,428.69 L625.31,428.45 L624.75,428.14 L624.19,427.76 L623.61,427.32 L623.02,426.81 L622.44,426.24 L621.84,425.6 L621.25,424.91 L620.66,424.16 L620.06,423.35 L619.48,422.49 L618.89,421.58 L618.31,420.62 L617.75,419.61 L617.19,418.56 L616.64,417.46 L616.1,416.33 L615.58,415.17 L615.07,413.97 L614.58,412.75 L614.11,411.5 L613.66,410.23 L613.23,408.94 L612.82,407.64 L612.44,406.33 L612.08,405 L611.74,403.68 L611.43,402.36 L611.15,401.04 L610.89,399.72 L610.66,398.42 L610.47,397.13 L610.3,395.86 L610.16,394.61 L610.05,393.39 L609.97,392.2 L609.93,391.03 Z" fill="#fff" stroke="#2a2a2a" stroke-width="1.2"/><defs><pattern id="kn" patternUnits="userSpaceOnUse" width="3.71" height="6.18" patternTransform="rotate(14)"><rect width="3.71" height="6.18" fill="#1c1c1c"/><ellipse cx="0.93" cy="1.55" rx="1.18" ry="0.86" fill="#f4f4f4"/><ellipse cx="2.785" cy="4.64" rx="1.18" ry="0.86" fill="#f4f4f4"/></pattern>
<linearGradient id="kg" x1="0" y1="0" x2="0" y2="1"><stop offset="0" stop-color="#1c1c1c" stop-opacity="0.9"/><stop offset="0.22" stop-color="#1c1c1c" stop-opacity="0"/><stop offset="0.78" stop-color="#1c1c1c" stop-opacity="0"/><stop offset="1" stop-color="#1c1c1c" stop-opacity="0.9"/></linearGradient></defs><path d="M609.91,389.9 L609.93,388.81 L609.97,387.76 L610.05,386.75 L610.16,385.79 L610.3,384.88 L610.47,384.02 L610.66,383.22 L610.89,382.47 L611.15,381.78 L611.43,381.15 L611.74,380.58 L612.08,380.07 L612.44,379.63 L612.82,379.25 L613.23,378.95 L613.66,378.71 L614.11,378.53 L654.04,366.56 L654.51,366.46 L655,366.42 L655.5,366.46 L656.03,366.56 L656.56,366.74 L657.11,366.98 L657.67,367.29 L658.24,367.67 L658.82,368.11 L659.4,368.62 L659.99,369.19 L660.58,369.82 L661.17,370.52 L661.77,371.27 L662.36,372.07 L662.95,372.94 L663.53,373.85 L664.11,374.81 L664.68,375.82 L665.24,376.87 L665.79,377.96 L666.32,379.09 L666.84,380.26 L667.35,381.45 L667.84,382.68 L668.31,383.93 L668.76,385.2 L669.19,386.48 L669.6,387.79 L669.99,389.1 L670.35,390.42 L670.69,391.75 L671,393.07 L671.28,394.39 L671.53,395.7 L671.76,397.01 L671.96,398.29 L672.13,399.56 L672.27,400.81 L672.37,402.04 L672.45,403.23 L672.5,404.39 L672.51,405.52 L672.5,406.61 L672.45,407.66 L672.37,408.67 L672.27,409.63 L672.13,410.54 L671.96,411.4 L671.76,412.21 L671.53,412.96 L671.28,413.65 L671,414.28 L670.69,414.85 L670.35,415.36 L669.99,415.8 L669.6,416.17 L669.19,416.48 L668.76,416.72 L668.31,416.89 L628.39,428.87 L627.92,428.97 L627.43,429 L626.92,428.97 L626.4,428.86 L625.86,428.69 L625.31,428.45 L624.75,428.14 L624.19,427.76 L623.61,427.32 L623.02,426.81 L622.44,426.24 L621.84,425.6 L621.25,424.91 L620.66,424.16 L620.06,423.35 L619.48,422.49 L618.89,421.58 L618.31,420.62 L617.75,419.61 L617.19,418.56 L616.64,417.46 L616.1,416.33 L615.58,415.17 L615.07,413.97 L614.58,412.75 L614.11,411.5 L613.66,410.23 L613.23,408.94 L612.82,407.64 L612.44,406.33 L612.08,405 L611.74,403.68 L611.43,402.36 L611.15,401.04 L610.89,399.72 L610.66,398.42 L610.47,397.13 L610.3,395.86 L610.16,394.61 L610.05,393.39 L609.97,392.2 L609.93,391.03 Z M632.59,417.5 L632.57,418.59 L632.53,419.64 L632.45,420.65 L632.34,421.61 L632.2,422.52 L632.03,423.38 L631.84,424.18 L631.61,424.93 L631.35,425.62 L631.07,426.25 L630.76,426.82 L630.42,427.33 L630.06,427.77 L629.68,428.15 L629.27,428.45 L628.84,428.69 L628.39,428.87 L627.92,428.97 L627.43,429 L626.92,428.97 L626.4,428.86 L625.86,428.69 L625.31,428.45 L624.75,428.14 L624.19,427.76 L623.61,427.32 L623.02,426.81 L622.44,426.24 L621.84,425.6 L621.25,424.91 L620.66,424.16 L620.06,423.35 L619.48,422.49 L618.89,421.58 L618.31,420.62 L617.75,419.61 L617.19,418.56 L616.64,417.46 L616.1,416.33 L615.58,415.17 L615.07,413.97 L614.58,412.75 L614.11,411.5 L613.66,410.23 L613.23,408.94 L612.82,407.64 L612.44,406.33 L612.08,405 L611.74,403.68 L611.43,402.36 L611.15,401.04 L610.89,399.72 L610.66,398.42 L610.47,397.13 L610.3,395.86 L610.16,394.61 L610.05,393.39 L609.97,392.2 L609.93,391.03 L609.91,389.9 L609.93,388.81 L609.97,387.76 L610.05,386.75 L610.16,385.79 L610.3,384.88 L610.47,384.02 L610.66,383.22 L610.89,382.47 L611.15,381.78 L611.43,381.15 L611.74,380.58 L612.08,380.07 L612.44,379.63 L612.82,379.25 L613.23,378.95 L613.66,378.71 L614.11,378.53 L614.58,378.43 L615.07,378.4 L615.58,378.43 L616.1,378.54 L616.64,378.71 L617.19,378.95 L617.75,379.26 L618.31,379.64 L618.89,380.08 L619.48,380.59 L620.06,381.16 L620.66,381.8 L621.25,382.49 L621.84,383.24 L622.44,384.05 L623.02,384.91 L623.61,385.82 L624.19,386.78 L624.75,387.79 L625.31,388.84 L625.86,389.94 L626.4,391.07 L626.92,392.23 L627.43,393.43 L627.92,394.65 L628.39,395.9 L628.84,397.17 L629.27,398.46 L629.68,399.76 L630.06,401.07 L630.42,402.4 L630.76,403.72 L631.07,405.04 L631.35,406.36 L631.61,407.68 L631.84,408.98 L632.03,410.27 L632.2,411.54 L632.34,412.79 L632.45,414.01 L632.53,415.2 L632.57,416.37 Z" fill="url(#kn)" fill-rule="evenodd" stroke="none"/><path d="M609.91,389.9 L609.93,388.81 L609.97,387.76 L610.05,386.75 L610.16,385.79 L610.3,384.88 L610.47,384.02 L610.66,383.22 L610.89,382.47 L611.15,381.78 L611.43,381.15 L611.74,380.58 L612.08,380.07 L612.44,379.63 L612.82,379.25 L613.23,378.95 L613.66,378.71 L614.11,378.53 L654.04,366.56 L654.51,366.46 L655,366.42 L655.5,366.46 L656.03,366.56 L656.56,366.74 L657.11,366.98 L657.67,367.29 L658.24,367.67 L658.82,368.11 L659.4,368.62 L659.99,369.19 L660.58,369.82 L661.17,370.52 L661.77,371.27 L662.36,372.07 L662.95,372.94 L663.53,373.85 L664.11,374.81 L664.68,375.82 L665.24,376.87 L665.79,377.96 L666.32,379.09 L666.84,380.26 L667.35,381.45 L667.84,382.68 L668.31,383.93 L668.76,385.2 L669.19,386.48 L669.6,387.79 L669.99,389.1 L670.35,390.42 L670.69,391.75 L671,393.07 L671.28,394.39 L671.53,395.7 L671.76,397.01 L671.96,398.29 L672.13,399.56 L672.27,400.81 L672.37,402.04 L672.45,403.23 L672.5,404.39 L672.51,405.52 L672.5,406.61 L672.45,407.66 L672.37,408.67 L672.27,409.63 L672.13,410.54 L671.96,411.4 L671.76,412.21 L671.53,412.96 L671.28,413.65 L671,414.28 L670.69,414.85 L670.35,415.36 L669.99,415.8 L669.6,416.17 L669.19,416.48 L668.76,416.72 L668.31,416.89 L628.39,428.87 L627.92,428.97 L627.43,429 L626.92,428.97 L626.4,428.86 L625.86,428.69 L625.31,428.45 L624.75,428.14 L624.19,427.76 L623.61,427.32 L623.02,426.81 L622.44,426.24 L621.84,425.6 L621.25,424.91 L620.66,424.16 L620.06,423.35 L619.48,422.49 L618.89,421.58 L618.31,420.62 L617.75,419.61 L617.19,418.56 L616.64,417.46 L616.1,416.33 L615.58,415.17 L615.07,413.97 L614.58,412.75 L614.11,411.5 L613.66,410.23 L613.23,408.94 L612.82,407.64 L612.44,406.33 L612.08,405 L611.74,403.68 L611.43,402.36 L611.15,401.04 L610.89,399.72 L610.66,398.42 L610.47,397.13 L610.3,395.86 L610.16,394.61 L610.05,393.39 L609.97,392.2 L609.93,391.03 Z M632.59,417.5 L632.57,418.59 L632.53,419.64 L632.45,420.65 L632.34,421.61 L632.2,422.52 L632.03,423.38 L631.84,424.18 L631.61,424.93 L631.35,425.62 L631.07,426.25 L630.76,426.82 L630.42,427.33 L630.06,427.77 L629.68,428.15 L629.27,428.45 L628.84,428.69 L628.39,428.87 L627.92,428.97 L627.43,429 L626.92,428.97 L626.4,428.86 L625.86,428.69 L625.31,428.45 L624.75,428.14 L624.19,427.76 L623.61,427.32 L623.02,426.81 L622.44,426.24 L621.84,425.6 L621.25,424.91 L620.66,424.16 L620.06,423.35 L619.48,422.49 L618.89,421.58 L618.31,420.62 L617.75,419.61 L617.19,418.56 L616.64,417.46 L616.1,416.33 L615.58,415.17 L615.07,413.97 L614.58,412.75 L614.11,411.5 L613.66,410.23 L613.23,408.94 L612.82,407.64 L612.44,406.33 L612.08,405 L611.74,403.68 L611.43,402.36 L611.15,401.04 L610.89,399.72 L610.66,398.42 L610.47,397.13 L610.3,395.86 L610.16,394.61 L610.05,393.39 L609.97,392.2 L609.93,391.03 L609.91,389.9 L609.93,388.81 L609.97,387.76 L610.05,386.75 L610.16,385.79 L610.3,384.88 L610.47,384.02 L610.66,383.22 L610.89,382.47 L611.15,381.78 L611.43,381.15 L611.74,380.58 L612.08,380.07 L612.44,379.63 L612.82,379.25 L613.23,378.95 L613.66,378.71 L614.11,378.53 L614.58,378.43 L615.07,378.4 L615.58,378.43 L616.1,378.54 L616.64,378.71 L617.19,378.95 L617.75,379.26 L618.31,379.64 L618.89,380.08 L619.48,380.59 L620.06,381.16 L620.66,381.8 L621.25,382.49 L621.84,383.24 L622.44,384.05 L623.02,384.91 L623.61,385.82 L624.19,386.78 L624.75,387.79 L625.31,388.84 L625.86,389.94 L626.4,391.07 L626.92,392.23 L627.43,393.43 L627.92,394.65 L628.39,395.9 L628.84,397.17 L629.27,398.46 L629.68,399.76 L630.06,401.07 L630.42,402.4 L630.76,403.72 L631.07,405.04 L631.35,406.36 L631.61,407.68 L631.84,408.98 L632.03,410.27 L632.2,411.54 L632.34,412.79 L632.45,414.01 L632.53,415.2 L632.57,416.37 Z" fill="url(#kg)" fill-rule="evenodd" stroke="none"/><path d="M632.59,417.5 L632.57,418.59 L632.53,419.64 L632.45,420.65 L632.34,421.61 L632.2,422.52 L632.03,423.38 L631.84,424.18 L631.61,424.93 L631.35,425.62 L631.07,426.25 L630.76,426.82 L630.42,427.33 L630.06,427.77 L629.68,428.15 L629.27,428.45 L628.84,428.69 L628.39,428.87 L627.92,428.97 L627.43,429 L626.92,428.97 L626.4,428.86 L625.86,428.69 L625.31,428.45 L624.75,428.14 L624.19,427.76 L623.61,427.32 L623.02,426.81 L622.44,426.24 L621.84,425.6 L621.25,424.91 L620.66,424.16 L620.06,423.35 L619.48,422.49 L618.89,421.58 L618.31,420.62 L617.75,419.61 L617.19,418.56 L616.64,417.46 L616.1,416.33 L615.58,415.17 L615.07,413.97 L614.58,412.75 L614.11,411.5 L613.66,410.23 L613.23,408.94 L612.82,407.64 L612.44,406.33 L612.08,405 L611.74,403.68 L611.43,402.36 L611.15,401.04 L610.89,399.72 L610.66,398.42 L610.47,397.13 L610.3,395.86 L610.16,394.61 L610.05,393.39 L609.97,392.2 L609.93,391.03 L609.91,389.9 L609.93,388.81 L609.97,387.76 L610.05,386.75 L610.16,385.79 L610.3,384.88 L610.47,384.02 L610.66,383.22 L610.89,382.47 L611.15,381.78 L611.43,381.15 L611.74,380.58 L612.08,380.07 L612.44,379.63 L612.82,379.25 L613.23,378.95 L613.66,378.71 L614.11,378.53 L614.58,378.43 L615.07,378.4 L615.58,378.43 L616.1,378.54 L616.64,378.71 L617.19,378.95 L617.75,379.26 L618.31,379.64 L618.89,380.08 L619.48,380.59 L620.06,381.16 L620.66,381.8 L621.25,382.49 L621.84,383.24 L622.44,384.05 L623.02,384.91 L623.61,385.82 L624.19,386.78 L624.75,387.79 L625.31,388.84 L625.86,389.94 L626.4,391.07 L626.92,392.23 L627.43,393.43 L627.92,394.65 L628.39,395.9 L628.84,397.17 L629.27,398.46 L629.68,399.76 L630.06,401.07 L630.42,402.4 L630.76,403.72 L631.07,405.04 L631.35,406.36 L631.61,407.68 L631.84,408.98 L632.03,410.27 L632.2,411.54 L632.34,412.79 L632.45,414.01 L632.53,415.2 L632.57,416.37 Z" fill="none" stroke="#2a2a2a" stroke-width="0.9"/><path d="M846.35,318.99 L846.36,317.9 L846.41,316.85 L846.49,315.85 L846.59,314.89 L846.73,313.98 L846.9,313.12 L847.1,312.31 L847.33,311.56 L847.58,310.87 L847.87,310.24 L848.18,309.67 L848.51,309.16 L848.87,308.72 L849.26,308.35 L849.67,308.04 L850.1,307.8 L850.55,307.63 L889.96,295.81 L890.43,295.71 L890.92,295.67 L891.42,295.71 L891.94,295.81 L892.48,295.99 L893.03,296.23 L893.59,296.54 L894.16,296.92 L894.73,297.36 L895.32,297.87 L895.91,298.44 L896.5,299.07 L897.09,299.76 L897.69,300.52 L898.28,301.32 L898.87,302.18 L899.45,303.1 L900.03,304.06 L900.6,305.07 L901.16,306.12 L901.7,307.21 L902.24,308.34 L902.76,309.5 L903.27,310.7 L903.76,311.92 L904.23,313.17 L904.68,314.44 L905.11,315.73 L905.52,317.03 L905.9,318.35 L906.27,319.67 L906.6,320.99 L906.91,322.32 L907.2,323.64 L907.45,324.95 L907.68,326.25 L907.88,327.54 L908.05,328.81 L908.18,330.06 L908.29,331.28 L908.37,332.48 L908.42,333.64 L908.43,334.77 L908.42,335.86 L908.37,336.91 L908.29,337.92 L908.18,338.88 L908.05,339.79 L907.88,340.65 L907.68,341.46 L907.45,342.21 L907.2,342.9 L906.91,343.53 L906.6,344.1 L906.27,344.6 L905.9,345.04 L905.52,345.42 L905.11,345.73 L904.68,345.97 L904.23,346.14 L864.82,357.96 L864.35,358.06 L863.86,358.09 L863.36,358.06 L862.83,357.95 L862.3,357.78 L861.75,357.54 L861.19,357.23 L860.62,356.85 L860.04,356.41 L859.46,355.9 L858.87,355.33 L858.28,354.7 L857.69,354 L857.09,353.25 L856.5,352.44 L855.91,351.58 L855.33,350.67 L854.75,349.71 L854.18,348.7 L853.62,347.65 L853.07,346.56 L852.54,345.43 L852.02,344.26 L851.51,343.07 L851.02,341.84 L850.55,340.59 L850.1,339.32 L849.67,338.03 L849.26,336.73 L848.87,335.42 L848.51,334.1 L848.18,332.77 L847.87,331.45 L847.58,330.13 L847.33,328.81 L847.1,327.51 L846.9,326.22 L846.73,324.95 L846.59,323.71 L846.49,322.48 L846.41,321.29 L846.36,320.12 Z M869.03,346.59 L869.01,347.68 L868.96,348.73 L868.89,349.74 L868.78,350.7 L868.64,351.61 L868.47,352.47 L868.27,353.27 L868.05,354.02 L867.79,354.71 L867.51,355.35 L867.2,355.91 L866.86,356.42 L866.5,356.86 L866.11,357.24 L865.7,357.55 L865.27,357.79 L864.82,357.96 L864.35,358.06 L863.86,358.09 L863.36,358.06 L862.83,357.95 L862.3,357.78 L861.75,357.54 L861.19,357.23 L860.62,356.85 L860.04,356.41 L859.46,355.9 L858.87,355.33 L858.28,354.7 L857.69,354 L857.09,353.25 L856.5,352.44 L855.91,351.58 L855.33,350.67 L854.75,349.71 L854.18,348.7 L853.62,347.65 L853.07,346.56 L852.54,345.43 L852.02,344.26 L851.51,343.07 L851.02,341.84 L850.55,340.59 L850.1,339.32 L849.67,338.03 L849.26,336.73 L848.87,335.42 L848.51,334.1 L848.18,332.77 L847.87,331.45 L847.58,330.13 L847.33,328.81 L847.1,327.51 L846.9,326.22 L846.73,324.95 L846.59,323.71 L846.49,322.48 L846.41,321.29 L846.36,320.12 L846.35,318.99 L846.36,317.9 L846.41,316.85 L846.49,315.85 L846.59,314.89 L846.73,313.98 L846.9,313.12 L847.1,312.31 L847.33,311.56 L847.58,310.87 L847.87,310.24 L848.18,309.67 L848.51,309.16 L848.87,308.72 L849.26,308.35 L849.67,308.04 L850.1,307.8 L850.55,307.63 L851.02,307.52 L851.51,307.49 L852.02,307.53 L852.54,307.63 L853.07,307.8 L853.62,308.05 L854.18,308.36 L854.75,308.73 L855.33,309.18 L855.91,309.68 L856.5,310.26 L857.09,310.89 L857.69,311.58 L858.28,312.33 L858.87,313.14 L859.46,314 L860.04,314.91 L860.62,315.88 L861.19,316.88 L861.75,317.94 L862.3,319.03 L862.83,320.16 L863.36,321.32 L863.86,322.52 L864.35,323.74 L864.82,324.99 L865.27,326.26 L865.7,327.55 L866.11,328.85 L866.5,330.17 L866.86,331.49 L867.2,332.81 L867.51,334.14 L867.79,335.46 L868.05,336.77 L868.27,338.07 L868.47,339.36 L868.64,340.63 L868.78,341.88 L868.89,343.1 L868.96,344.3 L869.01,345.46 Z" fill="url(#kn)" fill-rule="evenodd" stroke="none"/><path d="M846.35,318.99 L846.36,317.9 L846.41,316.85 L846.49,315.85 L846.59,314.89 L846.73,313.98 L846.9,313.12 L847.1,312.31 L847.33,311.56 L847.58,310.87 L847.87,310.24 L848.18,309.67 L848.51,309.16 L848.87,308.72 L849.26,308.35 L849.67,308.04 L850.1,307.8 L850.55,307.63 L889.96,295.81 L890.43,295.71 L890.92,295.67 L891.42,295.71 L891.94,295.81 L892.48,295.99 L893.03,296.23 L893.59,296.54 L894.16,296.92 L894.73,297.36 L895.32,297.87 L895.91,298.44 L896.5,299.07 L897.09,299.76 L897.69,300.52 L898.28,301.32 L898.87,302.18 L899.45,303.1 L900.03,304.06 L900.6,305.07 L901.16,306.12 L901.7,307.21 L902.24,308.34 L902.76,309.5 L903.27,310.7 L903.76,311.92 L904.23,313.17 L904.68,314.44 L905.11,315.73 L905.52,317.03 L905.9,318.35 L906.27,319.67 L906.6,320.99 L906.91,322.32 L907.2,323.64 L907.45,324.95 L907.68,326.25 L907.88,327.54 L908.05,328.81 L908.18,330.06 L908.29,331.28 L908.37,332.48 L908.42,333.64 L908.43,334.77 L908.42,335.86 L908.37,336.91 L908.29,337.92 L908.18,338.88 L908.05,339.79 L907.88,340.65 L907.68,341.46 L907.45,342.21 L907.2,342.9 L906.91,343.53 L906.6,344.1 L906.27,344.6 L905.9,345.04 L905.52,345.42 L905.11,345.73 L904.68,345.97 L904.23,346.14 L864.82,357.96 L864.35,358.06 L863.86,358.09 L863.36,358.06 L862.83,357.95 L862.3,357.78 L861.75,357.54 L861.19,357.23 L860.62,356.85 L860.04,356.41 L859.46,355.9 L858.87,355.33 L858.28,354.7 L857.69,354 L857.09,353.25 L856.5,352.44 L855.91,351.58 L855.33,350.67 L854.75,349.71 L854.18,348.7 L853.62,347.65 L853.07,346.56 L852.54,345.43 L852.02,344.26 L851.51,343.07 L851.02,341.84 L850.55,340.59 L850.1,339.32 L849.67,338.03 L849.26,336.73 L848.87,335.42 L848.51,334.1 L848.18,332.77 L847.87,331.45 L847.58,330.13 L847.33,328.81 L847.1,327.51 L846.9,326.22 L846.73,324.95 L846.59,323.71 L846.49,322.48 L846.41,321.29 L846.36,320.12 Z M869.03,346.59 L869.01,347.68 L868.96,348.73 L868.89,349.74 L868.78,350.7 L868.64,351.61 L868.47,352.47 L868.27,353.27 L868.05,354.02 L867.79,354.71 L867.51,355.35 L867.2,355.91 L866.86,356.42 L866.5,356.86 L866.11,357.24 L865.7,357.55 L865.27,357.79 L864.82,357.96 L864.35,358.06 L863.86,358.09 L863.36,358.06 L862.83,357.95 L862.3,357.78 L861.75,357.54 L861.19,357.23 L860.62,356.85 L860.04,356.41 L859.46,355.9 L858.87,355.33 L858.28,354.7 L857.69,354 L857.09,353.25 L856.5,352.44 L855.91,351.58 L855.33,350.67 L854.75,349.71 L854.18,348.7 L853.62,347.65 L853.07,346.56 L852.54,345.43 L852.02,344.26 L851.51,343.07 L851.02,341.84 L850.55,340.59 L850.1,339.32 L849.67,338.03 L849.26,336.73 L848.87,335.42 L848.51,334.1 L848.18,332.77 L847.87,331.45 L847.58,330.13 L847.33,328.81 L847.1,327.51 L846.9,326.22 L846.73,324.95 L846.59,323.71 L846.49,322.48 L846.41,321.29 L846.36,320.12 L846.35,318.99 L846.36,317.9 L846.41,316.85 L846.49,315.85 L846.59,314.89 L846.73,313.98 L846.9,313.12 L847.1,312.31 L847.33,311.56 L847.58,310.87 L847.87,310.24 L848.18,309.67 L848.51,309.16 L848.87,308.72 L849.26,308.35 L849.67,308.04 L850.1,307.8 L850.55,307.63 L851.02,307.52 L851.51,307.49 L852.02,307.53 L852.54,307.63 L853.07,307.8 L853.62,308.05 L854.18,308.36 L854.75,308.73 L855.33,309.18 L855.91,309.68 L856.5,310.26 L857.09,310.89 L857.69,311.58 L858.28,312.33 L858.87,313.14 L859.46,314 L860.04,314.91 L860.62,315.88 L861.19,316.88 L861.75,317.94 L862.3,319.03 L862.83,320.16 L863.36,321.32 L863.86,322.52 L864.35,323.74 L864.82,324.99 L865.27,326.26 L865.7,327.55 L866.11,328.85 L866.5,330.17 L866.86,331.49 L867.2,332.81 L867.51,334.14 L867.79,335.46 L868.05,336.77 L868.27,338.07 L868.47,339.36 L868.64,340.63 L868.78,341.88 L868.89,343.1 L868.96,344.3 L869.01,345.46 Z" fill="url(#kg)" fill-rule="evenodd" stroke="none"/><path d="M850.53,307.63 L851,307.53 L851.49,307.49 L852,307.52 L852.52,307.63 L853.06,307.8 L853.6,308.04 L854.16,308.35 L854.73,308.72 L855.31,309.16 L855.89,309.67 L856.48,310.24 L857.07,310.87 L857.67,311.56 L858.26,312.31 L858.85,313.11 L859.44,313.97 L860.02,314.88 L860.6,315.84 L861.17,316.85 L861.73,317.9 L862.28,318.99 L862.82,320.12 L863.34,321.28 L863.85,322.48 L864.34,323.7 L864.81,324.95 L865.26,326.22 L865.69,327.51 L866.1,328.81 L866.49,330.12 L866.85,331.44 L867.19,332.77 L867.5,334.09 L867.78,335.41 L868.04,336.73 L868.27,338.03 L868.46,339.32 L868.63,340.59 L868.77,341.84 L868.88,343.06 L868.96,344.26 L869.01,345.42 L869.03,346.55 L869.01,347.64 L868.97,348.7 L868.89,349.7 L868.78,350.67 L868.64,351.58 L868.48,352.44 L868.28,353.25 L868.05,354 L867.8,354.69 L867.52,355.33 L867.21,355.9 L866.87,356.41 L866.51,356.85 L866.13,357.23 L865.72,357.54 L865.29,357.78 L864.84,357.95" fill="none" stroke="#2a2a2a" stroke-width="1.3"/><path d="M609.91,389.9 L609.93,388.81 L609.97,387.76 L610.05,386.75 L610.16,385.79 L610.3,384.88 L610.47,384.02 L610.66,383.22 L610.89,382.47 L611.15,381.78 L611.43,381.15 L611.74,380.58 L612.08,380.07 L612.44,379.63 L612.82,379.25 L613.23,378.95 L613.66,378.71 L614.11,378.53 L889.96,295.81 L890.43,295.71 L890.92,295.67 L891.42,295.71 L891.94,295.81 L892.48,295.99 L893.03,296.23 L893.59,296.54 L894.16,296.92 L894.73,297.36 L895.32,297.87 L895.91,298.44 L896.5,299.07 L897.09,299.76 L897.69,300.52 L898.28,301.32 L898.87,302.18 L899.45,303.1 L900.03,304.06 L900.6,305.07 L901.16,306.12 L901.7,307.21 L902.24,308.34 L902.76,309.5 L903.27,310.7 L903.76,311.92 L904.23,313.17 L904.68,314.44 L905.11,315.73 L905.52,317.03 L905.9,318.35 L906.27,319.67 L906.6,320.99 L906.91,322.32 L907.2,323.64 L907.45,324.95 L907.68,326.25 L907.88,327.54 L908.05,328.81 L908.18,330.06 L908.29,331.28 L908.37,332.48 L908.42,333.64 L908.43,334.77 L908.42,335.86 L908.37,336.91 L908.29,337.92 L908.18,338.88 L908.05,339.79 L907.88,340.65 L907.68,341.46 L907.45,342.21 L907.2,342.9 L906.91,343.53 L906.6,344.1 L906.27,344.6 L905.9,345.04 L905.52,345.42 L905.11,345.73 L904.68,345.97 L904.23,346.14 L628.39,428.87 L627.92,428.97 L627.43,429 L626.92,428.97 L626.4,428.86 L625.86,428.69 L625.31,428.45 L624.75,428.14 L624.19,427.76 L623.61,427.32 L623.02,426.81 L622.44,426.24 L621.84,425.6 L621.25,424.91 L620.66,424.16 L620.06,423.35 L619.48,422.49 L618.89,421.58 L618.31,420.62 L617.75,419.61 L617.19,418.56 L616.64,417.46 L616.1,416.33 L615.58,415.17 L615.07,413.97 L614.58,412.75 L614.11,411.5 L613.66,410.23 L613.23,408.94 L612.82,407.64 L612.44,406.33 L612.08,405 L611.74,403.68 L611.43,402.36 L611.15,401.04 L610.89,399.72 L610.66,398.42 L610.47,397.13 L610.3,395.86 L610.16,394.61 L610.05,393.39 L609.97,392.2 L609.93,391.03 Z" fill="none" stroke="#2a2a2a" stroke-width="1.2"/><path d="M654,365.4 L660,363.4 L670,360.6 L684.7,354.1 L686.5,352.2 L688.5,351.6 L690.5,351.2 L700,347.9 L740,335.7 L780,323.2 L797.5,317.1 L806.75,315.4 L830,311.1 L850.5,306.3 L850.5,309.95 L654,368.88 Z" fill="#fff" stroke="none"/><path d="M654,365.4 L660,363.4 L670,360.6 L684.7,354.1 L686.5,352.2 L688.5,351.6 L690.5,351.2 L700,347.9 L740,335.7 L780,323.2 L797.5,317.1 L806.75,315.4 L830,311.1 L850.5,306.3" fill="none" stroke="#2a2a2a" stroke-width="1.2"/><line x1="623.4" y1="262" x2="620.3" y2="469.5" stroke="#2a2a2a" stroke-width="0.9"/><path d="M632.47,370.68 L632.52,370.33 L632.63,369.99 L632.8,369.66 L633.03,369.34 L633.31,369.05 L633.63,368.77 L634.01,368.52 L634.42,368.29 L634.87,368.09 L635.36,367.93 L635.87,367.79 L636.4,367.7 L636.95,367.63 L637.51,367.61 L638.08,367.62 L638.64,367.66 L639.19,367.75 L639.72,367.86 L640.24,368.02 L640.73,368.2 L641.19,368.41 L641.61,368.65 L641.99,368.92 L642.33,369.21 L642.61,369.52 L642.85,369.84 L643.02,370.18 L643.15,370.52 L643.21,370.87 L643.22,371.22 L643.22,379.81 L643.16,380.15 L643.05,380.49 L642.88,380.82 L642.66,381.14 L642.38,381.44 L642.05,381.71 L641.68,381.97 L641.26,382.19 L640.81,382.39 L640.33,382.56 L639.81,382.69 L639.28,382.79 L638.73,382.85 L638.17,382.88 L637.61,382.87 L637.05,382.82 L636.5,382.74 L635.96,382.62 L635.44,382.47 L634.95,382.28 L634.49,382.07 L634.07,381.83 L633.69,381.56 L633.36,381.27 L633.07,380.96 L632.84,380.64 L632.66,380.3 L632.54,379.96 L632.47,379.61 L632.47,379.26 Z" fill="#fff" stroke="#2a2a2a" stroke-width="1.1"/><path d="M642.61,369.52 L642.85,369.84 L643.02,370.18 L643.15,370.52 L643.21,370.87 L643.22,371.22 L643.16,371.57 L643.05,371.91 L642.88,372.24 L642.66,372.55 L642.38,372.85 L642.05,373.13 L641.68,373.38 L641.26,373.61 L640.81,373.81 L640.33,373.97 L639.81,374.1 L639.28,374.2 L638.73,374.27 L638.17,374.29 L637.61,374.28 L637.05,374.23 L636.5,374.15 L635.96,374.03 L635.44,373.88 L634.95,373.7 L634.49,373.49 L634.07,373.24 L633.69,372.98 L633.36,372.69 L633.07,372.38 L632.84,372.06 L632.66,371.72 L632.54,371.38 L632.47,371.03 L632.47,370.68 L632.52,370.33 L632.63,369.99 L632.8,369.66 L633.03,369.34 L633.31,369.05 L633.63,368.77 L634.01,368.52 L634.42,368.29 L634.87,368.09 L635.36,367.93 L635.87,367.79 L636.4,367.7 L636.95,367.63 L637.51,367.61 L638.08,367.62 L638.64,367.66 L639.19,367.75 L639.72,367.86 L640.24,368.02 L640.73,368.2 L641.19,368.41 L641.61,368.65 L641.99,368.92 L642.33,369.21 Z" fill="#fff" stroke="#2a2a2a" stroke-width="1.1"/><path d="M876.16,297.59 L876.22,297.24 L876.33,296.9 L876.5,296.58 L876.72,296.26 L877,295.96 L877.33,295.68 L877.7,295.43 L878.12,295.21 L878.57,295.01 L879.05,294.84 L879.57,294.71 L880.1,294.61 L880.65,294.55 L881.21,294.52 L881.77,294.53 L882.33,294.58 L882.88,294.66 L883.42,294.78 L883.94,294.93 L884.43,295.11 L884.88,295.33 L885.31,295.57 L885.69,295.84 L886.02,296.13 L886.31,296.43 L886.54,296.76 L886.72,297.09 L886.84,297.44 L886.91,297.79 L886.91,298.14 L886.91,306.72 L886.86,307.07 L886.74,307.41 L886.57,307.74 L886.35,308.05 L886.07,308.35 L885.75,308.63 L885.37,308.88 L884.96,309.11 L884.51,309.31 L884.02,309.47 L883.51,309.6 L882.97,309.7 L882.43,309.77 L881.87,309.79 L881.3,309.78 L880.74,309.73 L880.19,309.65 L879.65,309.53 L879.14,309.38 L878.65,309.2 L878.19,308.99 L877.77,308.74 L877.39,308.48 L877.05,308.19 L876.77,307.88 L876.53,307.56 L876.35,307.22 L876.23,306.88 L876.17,306.53 L876.16,306.18 Z" fill="#fff" stroke="#2a2a2a" stroke-width="1.1"/><path d="M886.31,296.43 L886.54,296.76 L886.72,297.09 L886.84,297.44 L886.91,297.79 L886.91,298.14 L886.86,298.48 L886.74,298.82 L886.57,299.15 L886.35,299.47 L886.07,299.77 L885.75,300.04 L885.37,300.3 L884.96,300.52 L884.51,300.72 L884.02,300.89 L883.51,301.02 L882.97,301.12 L882.43,301.18 L881.87,301.21 L881.3,301.2 L880.74,301.15 L880.19,301.07 L879.65,300.95 L879.14,300.8 L878.65,300.61 L878.19,300.4 L877.77,300.16 L877.39,299.89 L877.05,299.6 L876.77,299.29 L876.53,298.97 L876.35,298.63 L876.23,298.29 L876.17,297.94 L876.16,297.59 L876.22,297.24 L876.33,296.9 L876.5,296.58 L876.72,296.26 L877,295.96 L877.33,295.68 L877.7,295.43 L878.12,295.21 L878.57,295.01 L879.05,294.84 L879.57,294.71 L880.1,294.61 L880.65,294.55 L881.21,294.52 L881.77,294.53 L882.33,294.58 L882.88,294.66 L883.42,294.78 L883.94,294.93 L884.43,295.11 L884.88,295.33 L885.31,295.57 L885.69,295.84 L886.02,296.13 Z" fill="#fff" stroke="#2a2a2a" stroke-width="1.1"/><line x1="898.8" y1="297" x2="925.8" y2="289.4" stroke="#2a2a2a" stroke-width="0.9"/><line x1="908.4" y1="335.3" x2="925.3" y2="332" stroke="#2a2a2a" stroke-width="0.9"/><line x1="923.4" y1="289.6" x2="923.4" y2="301" stroke="#2a2a2a" stroke-width="0.9"/><line x1="923.4" y1="320" x2="923.4" y2="332" stroke="#2a2a2a" stroke-width="0.9"/><polygon points="923.4,289.8 924.5,293.8 922.3,293.8" fill="#2a2a2a"/><polygon points="923.4,331.8 922.3,327.8 924.5,327.8" fill="#2a2a2a"/><text transform="translate(911.03 315.66) scale(0.993 1)" font-size="14.30">Ø</text><text transform="translate(922.33 315.66) scale(0.993 1)" font-size="14.30">4</text><text transform="translate(930.23 315.66) scale(0.993 1)" font-size="14.30">2</text><rect x="744" y="214.1" width="29.7" height="15.8" fill="#fff"/><text transform="translate(745.69 227.26) scale(1.140 1)" font-size="14.30">2</text><text transform="translate(754.25 227.26) scale(1.140 1)" font-size="14.30">6</text><text transform="translate(762.89 227.26) scale(1.140 1)" font-size="14.30">6</text><rect x="707.7" y="258.2" width="25.9" height="15.2" fill="#fff"/><path d="M710.2,261.3 L713.18,261.3 L713.18,270.76" fill="none" stroke="#2a2a2a" stroke-width="1.3" stroke-linejoin="miter"/><text transform="translate(714.29 270.76) scale(1.107 1)" font-size="14.30">5</text><text transform="translate(722.95 270.76) scale(1.107 1)" font-size="14.30">0</text><path d="M775.6,408.5 L775.6,428.5 L777.6,430 L778,438.5 Q787,443 797.8,439.5 L797.8,432 Z" fill="#fff" stroke="#2a2a2a" stroke-width="1"/><path d="M777.8,430.5 L778,438.5 Q787,443 797.8,439.5 L797.8,430 Q788,433.5 777.8,430.5 Z" fill="#2c2c2c" stroke="#2a2a2a" stroke-width="0.8"/><path d="M778,433 Q788,436 797.8,432.5 M778,435.5 Q788,438.5 797.8,435" fill="none" stroke="#888" stroke-width="0.6"/><path d="M775.6,428.5 Q786,432 797.8,429" fill="none" stroke="#2a2a2a" stroke-width="0.9"/><path d="M759.5,388.6 C752,387.5 748.5,382 749.8,375.5 C752,364 761,354.5 771.5,353.7 C781.5,353.2 789.5,358.5 790.8,368 L791,370 C808,392 838,430 845,465.7 L813.5,474.4 C800,436 775,408 759.5,388.6 Z" fill="#fff" stroke="#2a2a2a" stroke-width="1.1"/><path d="M764.5,360.5 C759,367 757.5,378 759.5,388.6" fill="none" stroke="#2a2a2a" stroke-width="1.1"/><path d="M790.8,368 C790,363 786,358 779,357.5 C772,357.5 766,359 764.5,360.5" fill="none" stroke="#2a2a2a" stroke-width="0.8"/><line x1="804.2" y1="401" x2="861" y2="384.3" stroke="#2a2a2a" stroke-width="0.9"/><line x1="803.8" y1="429.5" x2="861" y2="413" stroke="#2a2a2a" stroke-width="0.9"/><line x1="859.9" y1="384.5" x2="859.9" y2="417.6" stroke="#2a2a2a" stroke-width="0.9"/><polygon points="858.49,384.8 861.31,384.8 861.31,390.3 858.49,390.3" fill="#2a2a2a"/><polygon points="861.31,412.8 858.49,412.8 858.49,407.3 861.31,407.3" fill="#2a2a2a"/><text transform="translate(847.82 433.46) scale(1.016 1)" font-size="14.30">Ø</text><text transform="translate(858.99 433.46) scale(1.016 1)" font-size="14.30">2</text><text transform="translate(866.82 433.46) scale(1.016 1)" font-size="14.30">8</text><line x1="582.7" y1="357.3" x2="582.2" y2="402" stroke="#2a2a2a" stroke-width="0.9"/><line x1="582" y1="402" x2="651.5" y2="488" stroke="#2a2a2a" stroke-width="0.9"/><polygon points="581.52,403.32 583.48,401.68 585.4,403.99 583.43,405.63" fill="#2a2a2a"/><polygon points="618.67,447.9 620.83,446.1 622.43,448.02 620.27,449.82" fill="#2a2a2a"/><polygon points="620.83,446.1 618.67,447.9 617.07,445.98 619.23,444.18" fill="#2a2a2a"/><rect x="593.5" y="416.5" width="16" height="14.7" fill="#fff"/><text transform="translate(594.7 429.06) scale(1.119 1)" font-size="14.30">7</text><path d="M603.92,419.6 L606.9,419.6 L606.9,429.06" fill="none" stroke="#2a2a2a" stroke-width="1.3" stroke-linejoin="miter"/><rect x="628.25" y="461.5" width="20.25" height="14.3" fill="#fff"/><text transform="translate(629.44 473.66) scale(1.130 1)" font-size="14.30">6</text><text transform="translate(638.18 473.66) scale(1.130 1)" font-size="14.30">0</text><line x1="619.75" y1="469.5" x2="690.3" y2="555.6" stroke="#2a2a2a" stroke-width="0.9"/><rect x="641.5" y="502" width="20.5" height="13.8" fill="#fff"/><path d="M643.5,504.2 L646.48,504.2 L646.48,513.66" fill="none" stroke="#2a2a2a" stroke-width="1.3" stroke-linejoin="miter"/><text transform="translate(647.62 513.66) scale(1.051 1)" font-size="14.30">3</text><path d="M656.43,504.2 L659.4,504.2 L659.4,513.66" fill="none" stroke="#2a2a2a" stroke-width="1.3" stroke-linejoin="miter"/><line x1="651.5" y1="488" x2="651.5" y2="475.1" stroke="#2a2a2a" stroke-width="0.9"/><line x1="651.5" y1="475.1" x2="779.4" y2="437.7" stroke="#2a2a2a" stroke-width="0.9"/><line x1="690.3" y1="555.6" x2="690.3" y2="511" stroke="#2a2a2a" stroke-width="0.9"/><line x1="690.3" y1="511" x2="813.5" y2="474.4" stroke="#2a2a2a" stroke-width="0.9"/><path d="M813.5,474.4 L830,469.8" stroke="#2a2a2a" stroke-width="2"/>
</svg></body></html>
